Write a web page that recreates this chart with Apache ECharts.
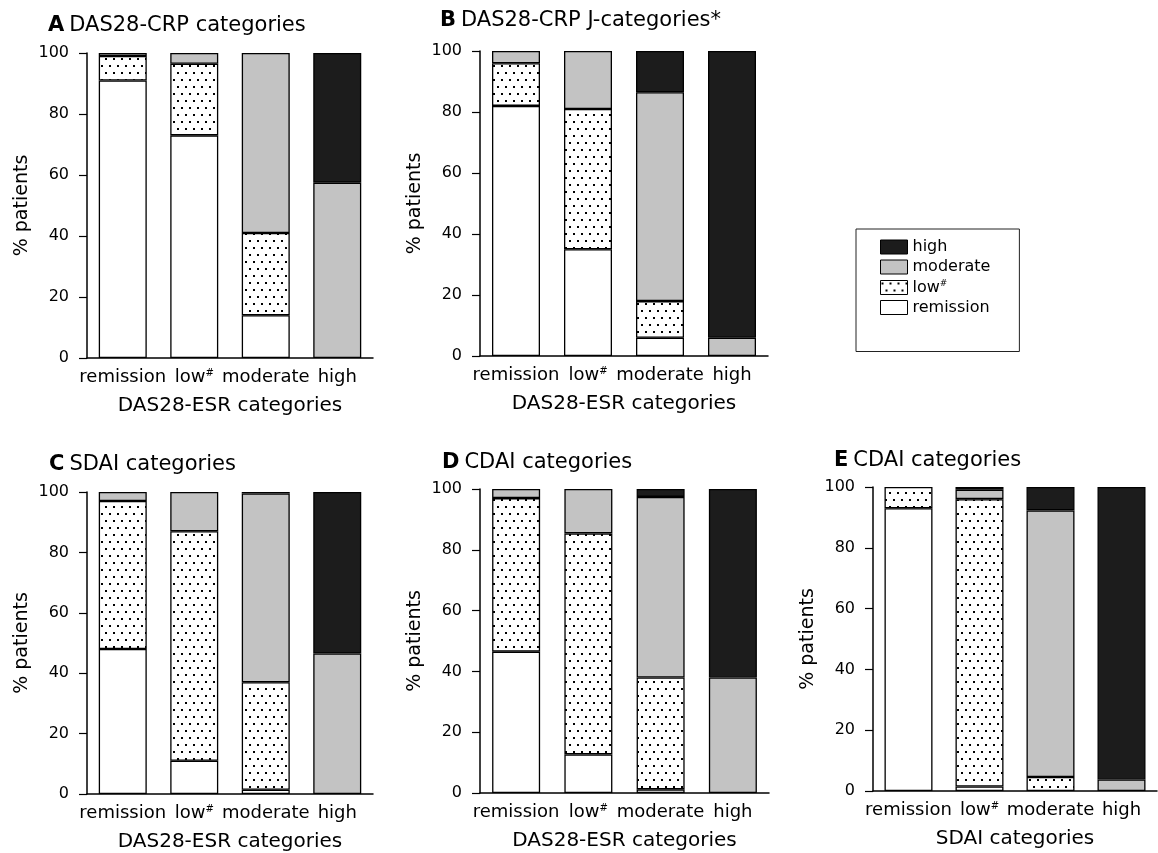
<!DOCTYPE html>
<html><head><meta charset="utf-8">
<script src="https://cdn.jsdelivr.net/npm/echarts@6/dist/echarts.min.js"></script>
<style>html,body{margin:0;padding:0;background:#fff}#c{width:1158px;height:853px}</style>
</head><body><div id="c"></div>
<script>
// ---- data ----
const categories = ['remission', 'low#', 'moderate', 'high'];
const seriesNames = ['remission', 'low#', 'moderate', 'high'];
const legendOrder = ['high', 'moderate', 'low#', 'remission'];
const yTicks = [0, 20, 40, 60, 80, 100];
const panelLetters = ['A', 'B', 'C', 'D', 'E'];
const panelTitles = ['DAS28-CRP categories', 'DAS28-CRP J-categories*', 'SDAI categories', 'CDAI categories', 'CDAI categories'];
const xAxisNames = ['DAS28-ESR categories', 'DAS28-ESR categories', 'DAS28-ESR categories', 'DAS28-ESR categories', 'SDAI categories'];
const yAxisName = '% patients';

// panel A
const A_remission = [91, 73, 14, 0];
const A_low = [8, 23.5, 27, 0];
const A_moderate = [1, 3.5, 59, 57.5];
const A_high = [0, 0, 0, 42.5];
// panel B
const B_remission = [82, 35, 6, 0];
const B_low = [14, 46, 12, 0];
const B_moderate = [4, 19, 68.5, 6];
const B_high = [0, 0, 13.5, 94];
// panel C
const C_remission = [48, 11, 1.4, 0];
const C_low = [49, 76, 35.6, 0];
const C_moderate = [3, 13, 62.5, 46.5];
const C_high = [0, 0, 0.5, 53.5];
// panel D
const D_remission = [46.5, 12.7, 1.2, 0];
const D_low = [50.5, 72.7, 36.8, 0];
const D_moderate = [3, 14.6, 59.4, 38];
const D_high = [0, 0, 2.6, 62];
// panel E
const E_remission = [93, 1.5, 0, 0];
const E_low = [7, 94.5, 4.6, 0];
const E_moderate = [0, 3.1, 87.7, 3.8];
const E_high = [0, 0.9, 7.7, 96.2];

const panelData = [
  [A_remission, A_low, A_moderate, A_high],
  [B_remission, B_low, B_moderate, B_high],
  [C_remission, C_low, C_moderate, C_high],
  [D_remission, D_low, D_moderate, D_high],
  [E_remission, E_low, E_moderate, E_high]
];

// ---- layout / style ----
const grids = [
  {left: 87, top: 53, width: 286, height: 305},
  {left: 480, top: 51, width: 288, height: 305},
  {left: 87, top: 492, width: 286, height: 303},
  {left: 480, top: 489, width: 289, height: 304},
  {left: 873, top: 487, width: 284, height: 304}
];
const titlePos = [[43, 10], [435, 5], [44, 449], [437, 447], [829, 445]];
const FONT = 'DejaVu Sans';

function dotPattern() {
  const c = document.createElement('canvas');
  c.width = 8; c.height = 14;
  const g = c.getContext('2d');
  g.fillStyle = '#fff'; g.fillRect(0, 0, 8, 14);
  g.fillStyle = '#000';
  g.fillRect(1, 2, 2, 2);
  g.fillRect(5, 9, 2, 2);
  return c;
}
const colors = {
  'remission': '#ffffff',
  'low#': {image: dotPattern(), repeat: 'repeat'},
  'moderate': '#c3c3c3',
  'high': '#1c1c1c'
};

function labelRich(v) {
  if (v.indexOf('#') >= 0) return '{n|' + v.replace('#', '') + '}{s|#}';
  return '{n|' + v + '}';
}

const option = {
  backgroundColor: '#fff',
  animation: false,
  title: panelLetters.map((L, i) => ({
    left: titlePos[i][0], top: titlePos[i][1],
    text: '{b|' + L + '} {n|' + panelTitles[i] + '}',
    textStyle: {
      fontWeight: 'normal',
      rich: {
        b: {fontFamily: FONT, fontWeight: 'bold', fontSize: 21, color: '#000'},
        n: {fontFamily: FONT, fontWeight: 'normal', fontSize: 21, color: '#000'}
      }
    }
  })),
  legend: {
    data: legendOrder,
    orient: 'vertical',
    left: 856, top: 229,
    padding: [10, 29, 36, 24],
    icon: 'rect',
    itemWidth: 27, itemHeight: 14, itemGap: 4,
    borderColor: '#222', borderWidth: 1,
    itemStyle: {borderColor: '#000', borderWidth: 1},
    formatter: n => labelRich(n),
    textStyle: {
      fontFamily: FONT, fontSize: 16, color: '#000',
      rich: {
        n: {fontFamily: FONT, fontSize: 16, color: '#000'},
        s: {fontFamily: FONT, fontSize: 9, color: '#000', verticalAlign: 'top', padding: [0, 0, 8, 0]}
      }
    },
    selectedMode: false
  },
  grid: grids,
  xAxis: grids.map((g, i) => ({
    type: 'category', gridIndex: i, data: categories,
    axisLine: {lineStyle: {color: '#000', width: 1.5}},
    axisTick: {show: false},
    axisLabel: {
      interval: 0, margin: 10, formatter: v => labelRich(v),
      rich: {
        n: {fontFamily: FONT, fontSize: 18, color: '#000'},
        s: {fontFamily: FONT, fontSize: 10, color: '#000', verticalAlign: 'top', padding: [0, 0, 9, 0]}
      }
    },
    name: xAxisNames[i], nameLocation: 'middle', nameGap: 38,
    nameTextStyle: {fontFamily: FONT, fontSize: 20, color: '#000'}
  })),
  yAxis: grids.map((g, i) => ({
    type: 'value', gridIndex: i, min: yTicks[0], max: yTicks[yTicks.length - 1], interval: yTicks[1] - yTicks[0],
    axisLine: {show: true, lineStyle: {color: '#000', width: 1.5}},
    axisTick: {show: true, length: 8, lineStyle: {color: '#000', width: 1.2}},
    axisLabel: {margin: 18, fontFamily: FONT, fontSize: 16, color: '#000'},
    splitLine: {show: false},
    name: yAxisName, nameLocation: 'middle', nameGap: 55,
    nameTextStyle: {fontFamily: FONT, fontSize: 19, color: '#000'}
  })),
  series: []
};

panelData.forEach((arrs, i) => {
  arrs.forEach((vals, k) => {
    const nm = seriesNames[k];
    option.series.push({
      type: 'bar', name: nm, xAxisIndex: i, yAxisIndex: i, stack: 'p' + i,
      barWidth: 48,
      data: vals.map(v => v === 0 ? '-' : v),
      itemStyle: {color: colors[nm], borderColor: '#000', borderWidth: 1.3},
      emphasis: {disabled: true}
    });
  });
});

const chart = echarts.init(document.getElementById('c'), null, {renderer: 'canvas'});
chart.setOption(option);
</script>
</body></html>
